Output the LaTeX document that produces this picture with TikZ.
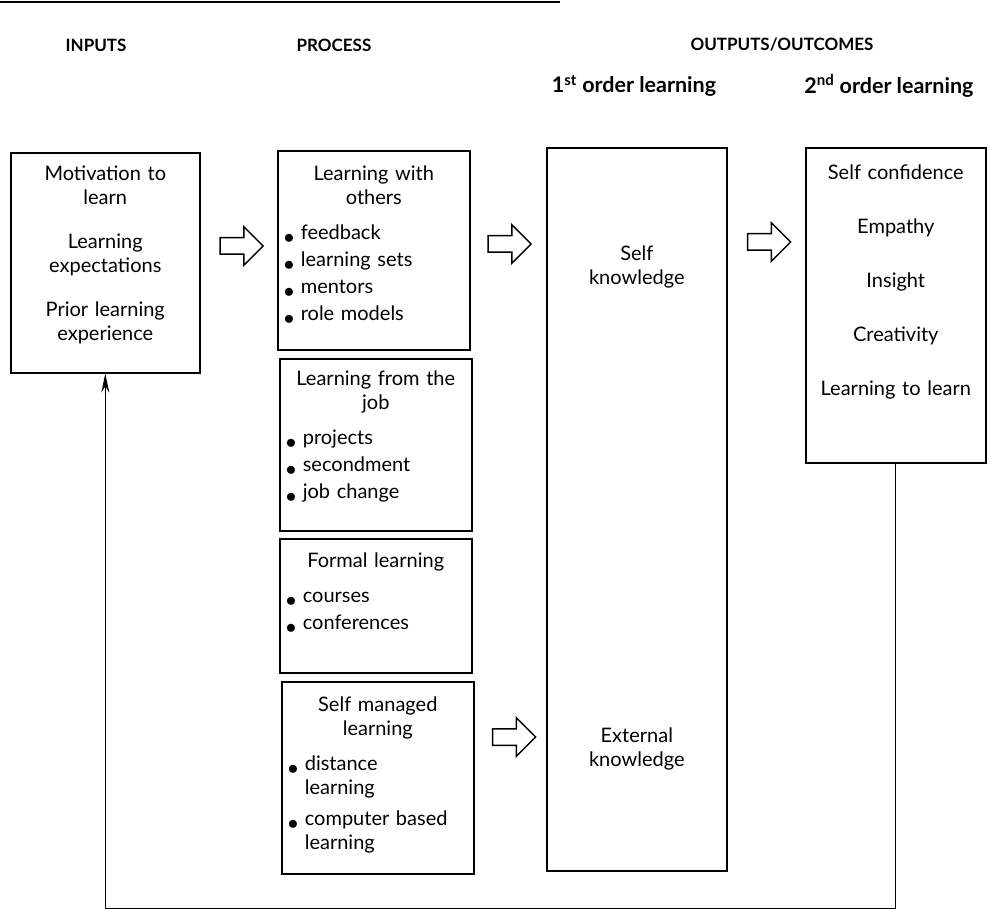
\documentclass[tikz,border=0pt]{standalone}
\usepackage{fontspec}
\setmainfont{Lato}
\usetikzlibrary{shapes.arrows,arrows.meta,positioning}

% bullet item with hanging indent
\newcommand\itm[1]{\par\vspace{3pt}\hangindent=17pt\hangafter=1\noindent
  \hbox to 17pt{\raisebox{-4pt}{$\bullet$}\hss}#1}
% empty space under the text of a box
\newcommand\pad[1]{\par\vspace*{#1}\nointerlineskip\hbox{}}

\begin{document}
\begin{tikzpicture}[x=1pt, y=-1pt,
    font=\fontsize{20}{24}\selectfont,
    box/.style={draw, line width=1.6pt, anchor=north west, inner xsep=6pt, inner ysep=6pt},
    procbox/.style={box, minimum width=192pt, text width=180pt},
    head/.style={font=\fontsize{17}{20}\selectfont\bfseries},
    subhead/.style={font=\fontsize{21.5}{24}\selectfont\bfseries},
    hollow/.style={single arrow, draw, line width=1.5pt, inner sep=7.5pt,
        single arrow head extend=11pt, minimum height=43pt},
    feedback/.style={line width=1.3pt, -{Stealth[length=19pt, width=8pt]}}]
    \useasboundingbox (0,0) rectangle (989,909);
    \draw[line width=2.5pt] (0,2) -- (560,2);

    % column headings
    \node[head] (hdin) at (96,45) {INPUTS};
    \node[head] (hdproc) at (334,45) {PROCESS};
    \node[head] (hdout) at (782,45) {OUTPUTS/OUTCOMES};
    \node[subhead] (hdfirst) at (634,86) {1\textsuperscript{st} order learning};
    \node[subhead] (hdsecond) at (889,86) {2\textsuperscript{nd} order learning};

    % inputs
    \node[box, minimum width=189pt, minimum height=220pt, text width=177pt, align=center] (inputs) at (10,152)
        {Motivation to\\learn\\[20pt]Learning\\expectations\\[20pt]Prior learning\\experience\pad{16pt}};

    % process
    \node[procbox, minimum height=199pt] (others) at (277,150)
        {{\centering Learning with\\others\par}\vspace{8pt}\raggedright
         \itm{feedback}\itm{learning sets}\itm{mentors}\itm{role models}\pad{10pt}};
    \node[procbox, minimum height=172pt] (job) at (279,358)
        {{\centering Learning from the\\job\par}\vspace{8pt}\raggedright
         \itm{projects}\itm{secondment}\itm{job change}\pad{16pt}};
    \node[procbox, minimum height=134pt] (formal) at (279,538)
        {{\centering Formal learning\par}\vspace{8pt}\raggedright
         \itm{courses}\itm{conferences}\pad{26pt}};
    \node[procbox, minimum height=192pt] (selfman) at (281,681)
        {{\centering Self managed\\learning\par}\vspace{8pt}\raggedright
         \itm{distance\newline learning}\vspace{4pt}\itm{computer based\newline learning}\pad{6pt}};

    % outputs
    \node[box, minimum width=180pt, minimum height=723pt] (firstorder) at (546,147) {};
    \node[align=center] (selfk) at ([yshift=-120pt]firstorder.north) {Self\\knowledge};
    \node[align=center] (extk) at ([yshift=-602pt]firstorder.north) {External\\knowledge};
    \node[box, minimum width=180pt, minimum height=315pt, text width=168pt, align=center] (outcomes) at (805,147)
        {Self confidence\\[30pt]Empathy\\[30pt]Insight\\[30pt]Creativity\\[30pt]Learning to learn\pad{46pt}};

    % hollow arrows
    \node[hollow] (arrin) at (237.5,246) {};
    \node[hollow] (arrproc) at (505.5,244) {};
    \node[hollow] (arrout) at (765,242) {};
    \node[hollow] (arrself) at (510,737) {};

    % feedback loop
    \draw[feedback] (outcomes.south) -- ++(0,445) -| (inputs.south);
\end{tikzpicture}
\end{document}
